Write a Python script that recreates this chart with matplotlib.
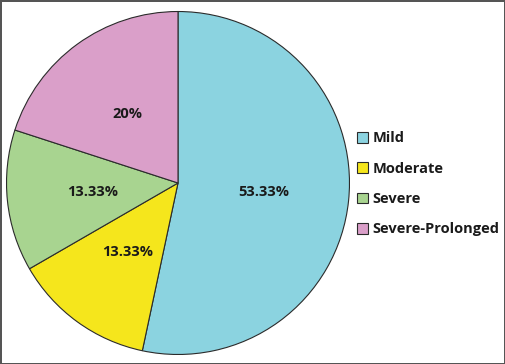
import matplotlib.pyplot as plt

# severity categories and their share (%)
categories = ['Mild', 'Moderate', 'Severe', 'Severe-Prolonged']
shares = [53.33, 13.33, 13.33, 20.0]
pct_labels = ['53.33%', '13.33%', '13.33%', '20%']
colors = ['#8bd3e0', '#f5e61c', '#a8d490', '#da9fc9']

plt.rcParams['font.family'] = ['Open Sans', 'DejaVu Sans']

fig = plt.figure(figsize=(5.05, 3.64), dpi=100)
fig.patch.set_edgecolor('#555555')
fig.patch.set_linewidth(2)

ax = fig.add_axes([5.5 / 505, 9 / 364, 345 / 505, 344 / 364])
wedges, texts = ax.pie(shares, colors=colors, startangle=90, counterclock=False,
                       labels=pct_labels, labeldistance=0.5,
                       wedgeprops=dict(edgecolor='#2b2b2b', linewidth=0.8))
for t in texts:
    t.set_ha('center')
    t.set_va('center')
    t.set_fontsize(10.5)
    t.set_fontweight('bold')
    t.set_color('#1a1a1a')
ax.set_xlim(-1.003, 1.003)
ax.set_ylim(-1.003, 1.003)
ax.set_aspect('equal')

leg = fig.legend(wedges, categories, loc='center left',
                 bbox_to_anchor=(357 / 505, 1 - 184 / 364), frameon=False,
                 borderpad=0, borderaxespad=0,
                 handlelength=0.75, handleheight=0.75, handletextpad=0.3,
                 labelspacing=1.12, prop=dict(size=10.5, weight='bold'))
for h in leg.legend_handles:
    h.set_edgecolor('#2b2b2b')
    h.set_linewidth(0.8)
for t in leg.get_texts():
    t.set_color('#1a1a1a')

fig.savefig('out.png', dpi=100)
